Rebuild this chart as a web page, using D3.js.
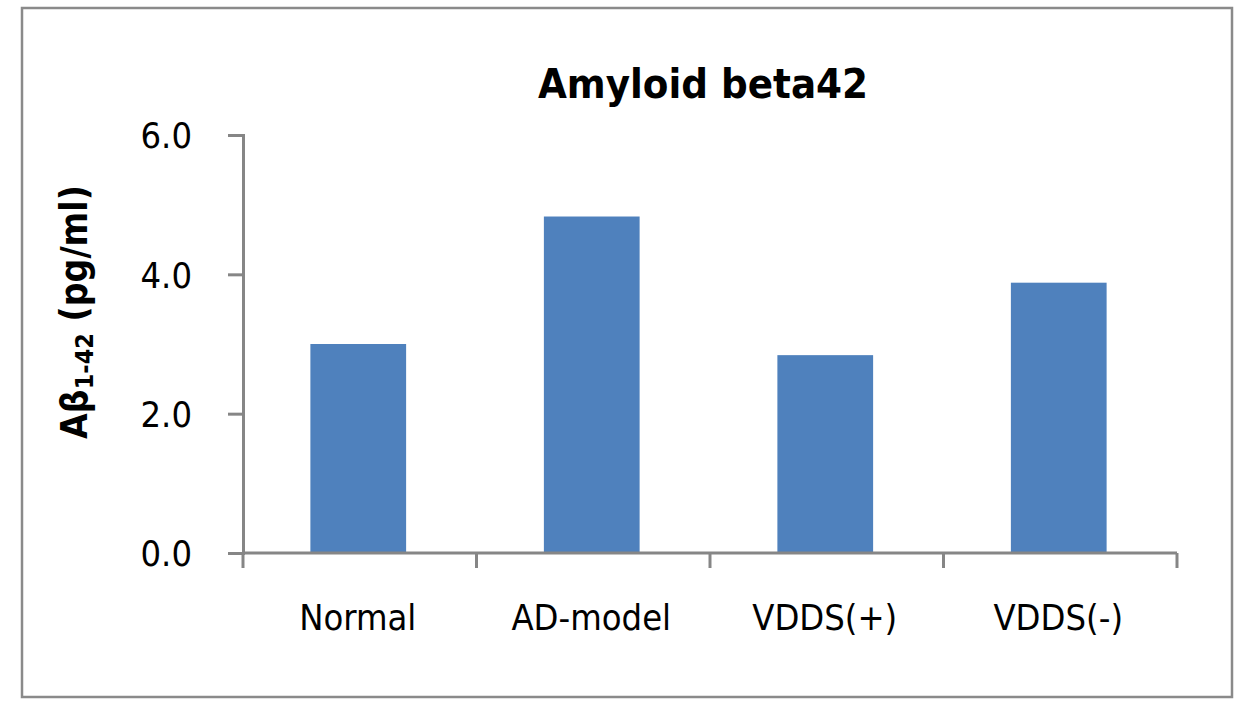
<!DOCTYPE html>
<html>
<head>
<meta charset="utf-8">
<script src="https://cdn.jsdelivr.net/npm/d3@7"></script>
<style>
  html, body { margin: 0; padding: 0; background: #fff; }
  svg { display: block; }
  text { font-family: "DejaVu Sans Condensed", "DejaVu Sans", sans-serif; fill: #000; }
</style>
</head>
<body>
<svg id="chart" width="1254" height="711"></svg>
<script>
const categories = ["Normal", "AD-model", "VDDS(+)", "VDDS(-)"];
const values = [3.00, 4.83, 2.84, 3.88];
const yTicks = [0, 2, 4, 6];
const titleText = "Amyloid beta42";

const svg = d3.select("#chart");
const W = 1254, H = 711;
svg.append("rect").attr("width", W).attr("height", H).attr("fill", "#fff");

// outer frame
svg.append("rect")
  .attr("x", 22).attr("y", 8).attr("width", 1210).attr("height", 689)
  .attr("fill", "none").attr("stroke", "#8a8a8a").attr("stroke-width", 2.5);

const plot = { left: 243, right: 1177, top: 135, bottom: 553 };

const x = d3.scaleBand().domain(categories)
  .range([plot.left, plot.right]).paddingInner(0.59).paddingOuter(0.295);
const y = d3.scaleLinear().domain([0, 6]).range([plot.bottom, plot.top]);

// bars
svg.append("g").selectAll("rect").data(categories).join("rect")
  .attr("x", d => x(d) - 1.5)
  .attr("width", x.bandwidth())
  .attr("y", (d, i) => y(values[i]))
  .attr("height", (d, i) => y(0) - y(values[i]))
  .attr("fill", "#4F81BD");

// y axis
const yAxis = svg.append("g").attr("transform", `translate(${plot.left},0)`)
  .call(d3.axisLeft(y).tickValues(yTicks).tickFormat(d3.format(".1f")).tickSizeOuter(0).tickSize(15).tickPadding(36));
yAxis.select(".domain").attr("stroke", "#868686").attr("stroke-width", 3);
yAxis.selectAll(".tick line").attr("stroke", "#868686").attr("stroke-width", 3);
yAxis.selectAll(".tick text").attr("font-size", 36).attr("fill", "#000")
  .style("font-family", '"DejaVu Sans Condensed", "DejaVu Sans", sans-serif').attr("dy", "0.36em");

// x axis: ticks at band boundaries
const xAxisG = svg.append("g").attr("transform", `translate(0,${plot.bottom})`);
xAxisG.append("line").attr("x1", plot.left).attr("x2", plot.right)
  .attr("stroke", "#868686").attr("stroke-width", 3);
const step = x.step();
const boundaries = d3.range(categories.length + 1).map(i => plot.left + i * step);
xAxisG.selectAll("line.tk").data(boundaries).join("line").attr("class", "tk")
  .attr("x1", d => d).attr("x2", d => d).attr("y1", 0).attr("y2", 15)
  .attr("stroke", "#868686").attr("stroke-width", 3);
xAxisG.selectAll("text").data(categories).join("text")
  .attr("x", d => x(d) + x.bandwidth() / 2 - 2)
  .attr("y", 77)
  .attr("text-anchor", "middle")
  .attr("font-size", 36)
  .text(d => d);

// title
svg.append("text").attr("x", 703).attr("y", 98).attr("text-anchor", "middle")
  .attr("font-size", 41.5).attr("font-weight", "bold").text(titleText);

// y label
const yl = svg.append("text")
  .attr("transform", "translate(87,312) rotate(-90)")
  .attr("text-anchor", "middle")
  .attr("font-size", 37).attr("font-weight", "bold");
yl.append("tspan").text("Aβ");
yl.append("tspan").attr("font-size", 25).attr("dy", 6).text("1-42");
yl.append("tspan").attr("dy", -6).text(" (pg/ml)");
</script>
</body>
</html>
